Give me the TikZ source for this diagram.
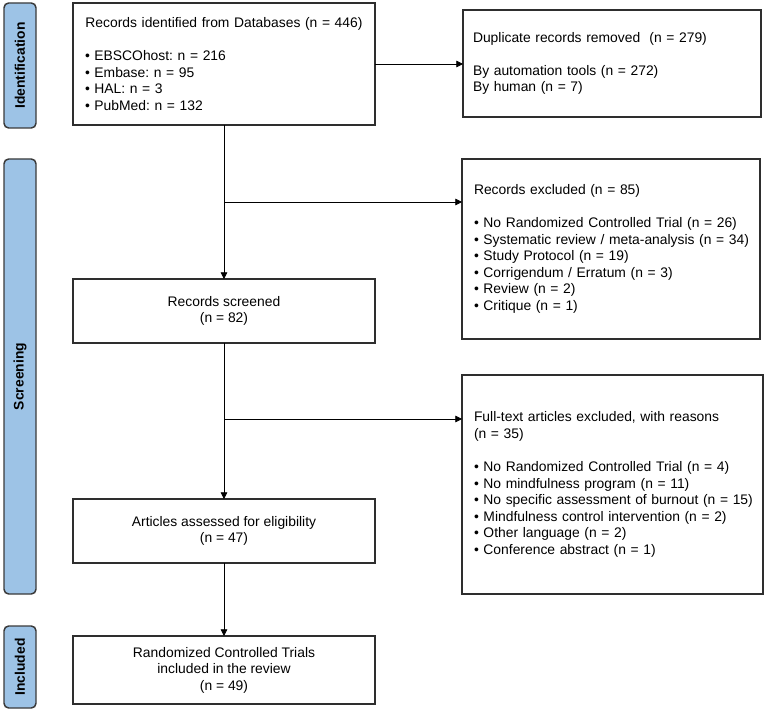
\documentclass[tikz,border=0pt]{standalone}
\usepackage{fontspec}
\setmainfont{Liberation Sans}
\usetikzlibrary{arrows.meta}
\definecolor{barblue}{HTML}{9DC3E6}
\definecolor{barline}{HTML}{3A3A3A}
\definecolor{boxline}{HTML}{2E2E2E}
\newcommand\bitem[1]{\mbox{• #1}}
\begin{document}
\frenchspacing
\begin{tikzpicture}[x=0.75pt,y=-0.75pt,
  every node/.style={font=\fontsize{10.4}{12.4}\selectfont},
  phasebar/.style={draw=barline,line width=1.1pt,fill=barblue,rounded corners=3.5pt,
    minimum width=24pt,inner sep=0pt},
  phaselabel/.style={rotate=90,font=\fontsize{10.4}{12.4}\selectfont\bfseries},
  fbox/.style={draw=boxline,line width=0.95pt,inner sep=0pt,outer sep=0pt},
  cbox/.style={fbox,align=center,minimum width=226.5pt},
  lbox/.style={fbox,align=left,inner xsep=9pt},
  arr/.style={draw=black,line width=0.6pt,-{Triangle[length=5pt,width=5pt]}}]
\useasboundingbox (0,0) rectangle (767,712);
% phase bars
\node[phasebar,minimum height=93.75pt] (pid) at (20,65.5) {};
\node[phaselabel] (tid) at (pid.center) {Identification};
\node[phasebar,minimum height=326.25pt] (psc) at (20,376.5) {};
\node[phaselabel] (tsc) at (psc.center) {Screening};
\node[phasebar,minimum height=61.5pt] (pin) at (20,667) {};
\node[phaselabel] (tin) at (pin.center) {Included};
% boxes
\node[lbox,text width=208.5pt,minimum height=91.5pt] (b1) at (224,64) {%
\makebox[\hsize][c]{Records identified from Databases (n = 446)}\\[12.4pt]
\bitem{EBSCOhost: n = 216}\\
\bitem{Embase: n = 95}\\
\bitem{HAL: n = 3}\\
\bitem{PubMed: n = 132}};
\node[lbox,inner xsep=7.5pt,text width=208.5pt,minimum height=80.25pt] (b2) at (612,63.5) {%
\mbox{Duplicate records removed\ \ (n = 279)}\\[12.4pt]
\mbox{By automation tools (n = 272)}\\
\mbox{By human (n = 7)}};
\node[lbox,text width=205.5pt,minimum height=135pt] (ex) at (611,249) {%
\mbox{Records excluded (n = 85)}\\[12.4pt]
\bitem{No Randomized Controlled Trial (n = 26)}\\
\bitem{Systematic review / meta-analysis (n = 34)}\\
\bitem{Study Protocol (n = 19)}\\
\bitem{Corrigendum / Erratum (n = 3)}\\
\bitem{Review (n = 2)}\\
\bitem{Critique (n = 1)}};
\node[cbox,minimum height=48pt] (sc) at (224,311) {Records screened\\(n = 82)};
\node[lbox,text width=207.75pt,minimum height=164.25pt] (ft) at (612.5,484.5) {%
\mbox{Full-text articles excluded, with reasons}\\
\mbox{(n = 35)}\\[12.4pt]
\bitem{No Randomized Controlled Trial (n = 4)}\\
\bitem{No mindfulness program (n = 11)}\\
\bitem{No specific assessment of burnout (n = 15)}\\
\bitem{Mindfulness control intervention (n = 2)}\\
\bitem{Other language (n = 2)}\\
\bitem{Conference abstract (n = 1)}};
\node[cbox,minimum height=48pt] (ae) at (224,531) {Articles assessed for eligibility\\(n = 47)};
\node[cbox,minimum height=51pt] (rc) at (224,670) {Randomized Controlled Trials\\included in the review\\(n = 49)};
% junctions
\coordinate (j1) at (224,202);
\coordinate (j2) at (224,419);
% connectors
\draw[arr] (b1.east) -- (b1.east -| b2.west);
\draw[arr] (b1.south) -- (sc.north);
\draw[arr] (j1) -- (j1 -| ex.west);
\draw[arr] (sc.south) -- (ae.north);
\draw[arr] (j2) -- (j2 -| ft.west);
\draw[arr] (ae.south) -- (rc.north);
\end{tikzpicture}
\end{document}
